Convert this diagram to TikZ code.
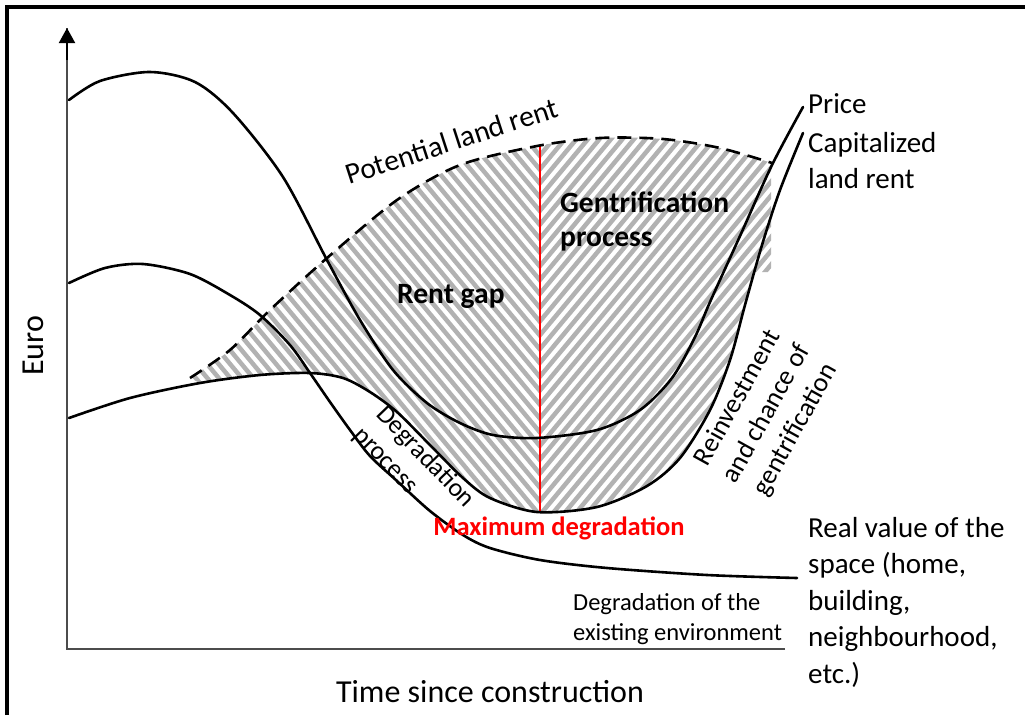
\documentclass[tikz,border=0pt]{standalone}
\usepackage{fontspec}
\setmainfont{Carlito}
\usetikzlibrary{arrows.meta}
\begin{document}
\begin{tikzpicture}[x=1pt,y=-1pt,
  curve/.style={line width=2.6pt, black, line cap=round},
  axisline/.style={line width=2pt, black!70},
  hatchline/.style={line width=4.5pt, gray!60},
  lbl/.style={inner sep=0pt, font=\fontsize{29}{36.5}\selectfont},
  boldlbl/.style={inner sep=0pt, font=\fontsize{29.5}{34}\selectfont\bfseries},
  smalllbl/.style={inner sep=0pt, font=\fontsize{24.5}{30}\selectfont},
  axislbl/.style={inner sep=0pt, font=\fontsize{32}{38}\selectfont},
  rotlbl/.style={inner sep=0pt, font=\fontsize{27}{33}\selectfont}]
\useasboundingbox (0,0) rectangle (1025,715);
% frame
\draw[line width=4pt] (7,715) -- (7,7) -- (1025,7);
% hatch
\begin{scope}
  \clip plot[smooth] coordinates {(190,378) (230,350) (270,310) (327,258) (397,200) (460,165) (537,146) (600,138) (663,139) (720,148) (772,163)}
    -- (771,163) -- (771,272) -- (754,272)
    -- plot[smooth] coordinates {(745,305) (730,360) (710,410) (680,458) (647,486) (597,507) (537,512) (490,498) (463,478) (430,445) (397,412) (370,392) (343,378) (310,373) (260,375) (200,383)} -- cycle;
  \begin{scope}
    \clip (0,0) rectangle (540,715);
    \foreach \x in {-70,-58.5,...,560} \draw[hatchline] (\x,100) -- ++(366,440);
  \end{scope}
  \begin{scope}
    \clip (540,0) rectangle (1025,715);
    \foreach \x in {540,551.5,...,1120} \draw[hatchline] (\x,100) -- ++(-366,440);
  \end{scope}
\end{scope}
% red line
\coordinate (rtop) at (540,146);
\coordinate (rbot) at (540,512);
\draw[red, line width=2.6pt] (rtop) -- (rbot);
% axes
\coordinate (origin) at (67,649);
\coordinate (ytop) at (67,28);
\coordinate (xend) at (785,649);
\draw[axisline] (xend) -- (origin) -- (ytop);
\draw[black, line width=2pt, -{Triangle[length=15pt,width=16pt]}] (67,60) -- (ytop);
% potential land rent (dashed)
\draw[curve, line cap=butt, dash pattern=on 14pt off 8pt] plot[smooth] coordinates {(190,378) (230,350) (270,310) (327,258) (397,200) (460,165) (537,146) (600,138) (663,139) (720,148) (772,163)};
% price
\draw[curve] plot[smooth] coordinates {(69,100) (100,81) (150,72) (195,82) (233,113) (283,177) (327,260) (360,320) (393,370) (427,403) (460,423) (493,435) (537,438) (597,430) (640,410) (672,378) (695,337) (710,302) (740,236) (772,165) (803,107)};
% capitalized land rent
\draw[curve] plot[smooth] coordinates {(69,418) (130,398) (200,383) (260,375) (310,373) (343,378) (370,392) (397,412) (430,445) (463,478) (490,498) (537,512) (597,507) (647,486) (680,458) (710,410) (730,360) (745,305) (762,245) (780,190) (803,133)};
% real value
\draw[curve] plot[smooth] coordinates {(69,283) (105,268) (143,264) (190,274) (230,295) (260,315) (290,345) (310,373) (330,402) (350,430) (370,456) (397,481) (430,511) (463,535) (490,548) (540,560) (607,568) (707,575) (797,578)};
% labels
\node[lbl, anchor=base west] (price) at (808,113) {Price};
\node[lbl, anchor=north west, align=left] (caprent) at (808,132) {Capitalized\\land rent};
\node[lbl, anchor=north west, align=left] (realval) at (808,517) {Real value of the\\space (home,\\building,\\neighbourhood,\\etc.)};
\node[inner sep=0pt, font=\fontsize{29.5}{36}\selectfont, anchor=base west, rotate=18] (potential) at (349,185) {Potential land rent};
\node[boldlbl, anchor=base west] (rentgap) at (397,303) {Rent gap};
\node[boldlbl, anchor=north west, align=left] (gentri) at (560,192) {Gentrification\\process};
\node[inner sep=0pt, font=\fontsize{26.5}{30}\selectfont\bfseries, text=red, anchor=base] (maxdeg) at (559,535) {Maximum degradation};
\node[smalllbl, anchor=north west, align=left] (degenv) at (573,593) {Degradation of the\\existing environment};
\node[inner sep=0pt, font=\fontsize{26}{31}\selectfont, align=left, rotate=-46] (degproc) at (414,468) {Degradation\\process};
\node[rotlbl, align=center, rotate=61] (reinv) at (767,414) {Reinvestment\\and chance of\\gentrification};
\node[axislbl, rotate=90] (euro) at (33,346) {Euro};
\node[axislbl, anchor=base] (time) at (490,702) {Time since construction};
\end{tikzpicture}
\end{document}
